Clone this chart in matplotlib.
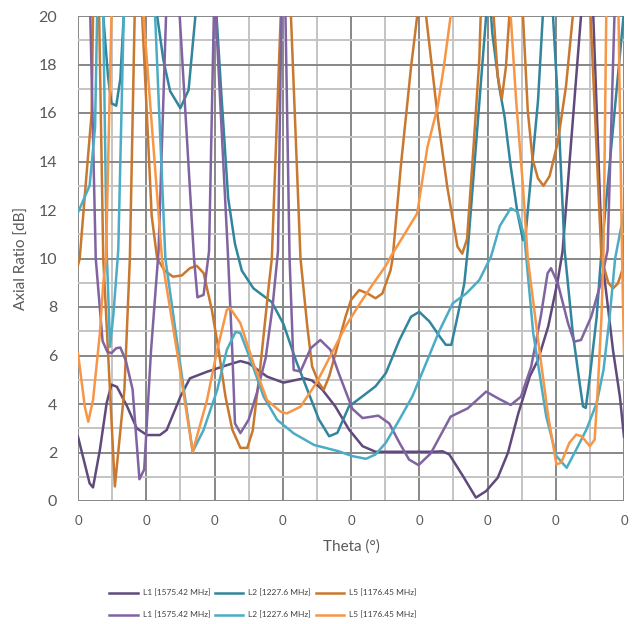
import matplotlib
matplotlib.use("Agg")
import matplotlib.pyplot as plt
from matplotlib.ticker import MultipleLocator, FixedFormatter, FixedLocator

plt.rcParams['font.family'] = ['Lato', 'DejaVu Sans']

# theta position in grid divisions (one labelled division = 8 per sweep), axial ratio in dB
l1a_theta = [0, 0.17, 0.22, 0.32, 0.42, 0.49, 0.57, 0.72, 0.86, 1.01, 1.2, 1.3, 1.5, 1.64, 1.89,
             2.18, 2.38, 2.5, 2.77, 3.01, 3.31, 3.43, 3.58, 3.77, 3.97, 4.17, 4.36, 5.2, 5.34, 5.44,
             5.64, 5.83, 5.98, 6.15, 6.3, 6.45, 6.62, 6.74, 6.89, 7.03, 7.1, 7.37, 7.45, 7.55, 7.68,
             7.84, 7.94, 8.0]
l1a_ar = [2.65, 0.73, 0.56, 2.1, 4.04, 4.8, 4.71, 3.9, 3.0, 2.72, 2.72, 2.93, 4.3, 5.06, 5.33,
          5.6, 5.77, 5.68, 5.13, 4.88, 5.06, 4.97, 4.59, 3.9, 2.95, 2.26, 2.03, 2.03, 2.05, 1.92,
          1.03, 0.14, 0.41, 0.96, 1.99, 3.6, 5.14, 5.82, 7.2, 9.1, 10.3, 20, 24, 20, 10,
          6.2, 4.3, 2.65]

l2a_theta = [0, 0.37, 0.44, 0.49, 0.56, 0.62, 0.67, 0.9, 1.16, 1.25, 1.35, 1.5, 1.62, 1.72, 1.88,
             2.03, 2.1, 2.2, 2.3, 2.4, 2.57, 2.84, 3.01, 3.19, 3.36, 3.53, 3.68, 3.8, 3.97, 4.17,
             4.36, 4.51, 4.71, 4.88, 5.0, 5.15, 5.3, 5.39, 5.47, 5.56, 5.66, 5.71, 5.98, 6.03, 6.07,
             6.17, 6.25, 6.34, 6.44, 6.52, 6.56, 6.74, 6.81, 6.88, 6.96, 7.03, 7.13, 7.25, 7.35, 7.4,
             7.44, 7.5, 7.6, 7.67, 8.0]
l2a_ar = [26, 20, 17.5, 16.4, 16.3, 17.4, 20, 27, 20, 18.2, 16.9, 16.2, 16.95, 20, 24,
          20, 16.8, 12.5, 10.6, 9.5, 8.77, 8.2, 7.3, 5.82, 4.59, 3.36, 2.67, 2.81, 3.9, 4.32,
          4.73, 5.27, 6.64, 7.6, 7.8, 7.4, 6.78, 6.44, 6.44, 7.6, 8.97, 10.34, 20, 21, 19.3,
          17.1, 15.85, 13.8, 11.87, 10.76, 11.04, 16.5, 20, 23, 20, 16.5, 10.34, 6.92, 4.86, 3.9,
          3.84, 5.14, 7.6, 10.3, 20.2]

l5a_theta = [0, 0.025, 0.12, 0.2, 0.22, 0.27, 0.31, 0.37, 0.54, 0.68, 0.76, 0.83, 0.885, 0.94, 1.08,
             1.16, 1.27, 1.39, 1.52, 1.64, 1.74, 1.84, 1.96, 2.06, 2.16, 2.26, 2.38, 2.48, 2.56, 2.67,
             2.8, 2.84, 2.97, 3.05, 3.12, 3.26, 3.36, 3.43, 3.53, 3.6, 3.68, 3.8, 3.92, 4.0, 4.12,
             4.24, 4.36, 4.46, 4.58, 4.61, 4.73, 4.88, 4.97, 5.03, 5.1, 5.27, 5.41, 5.56, 5.63, 5.7,
             5.8, 5.88, 5.9, 6.0, 6.09, 6.15, 6.21, 6.27, 6.32, 6.42, 6.52, 6.59, 6.66, 6.74, 6.82,
             6.91, 7.03, 7.15, 7.25, 7.38, 7.51, 7.67, 7.77, 7.84, 7.91, 8.0]
l5a_ar = [9.73, 10, 13.3, 16, 20, 23, 20, 10, 0.6, 4.59, 10, 20, 24, 20, 11.75,
          10, 9.5, 9.25, 9.3, 9.6, 9.7, 9.4, 7.9, 6.23, 4.32, 2.95, 2.19, 2.19, 2.9, 5.5,
          9.0, 10, 20, 26, 20, 10, 7.19, 5.55, 4.86, 4.59, 5.14, 6.37, 7.6, 8.29, 8.7,
          8.56, 8.36, 8.56, 9.52, 10, 13.8, 17.9, 20, 21, 20, 15.85, 12.96, 10.49, 10.2, 10.8,
          14.8, 18.2, 20, 22, 20, 17.5, 16.6, 17.9, 20, 23, 20, 16.1, 14.1, 13.3, 13.0,
          13.4, 14.8, 17.1, 20, 25, 20, 10, 9.0, 8.77, 8.97, 9.73]

l1b_theta = [0, 0.18, 0.26, 0.31, 0.36, 0.43, 0.49, 0.56, 0.62, 0.7, 0.8, 0.9, 0.97, 1.07, 1.18,
             1.29, 1.39, 1.49, 1.7, 1.75, 1.84, 1.92, 1.99, 2.005, 2.02, 2.2, 2.26, 2.3, 2.38, 2.5,
             2.62, 2.75, 2.85, 2.93, 2.98, 3.01, 3.04, 3.1, 3.16, 3.26, 3.41, 3.55, 3.7, 3.82, 4.02,
             4.17, 4.4, 4.56, 4.71, 4.85, 4.99, 5.17, 5.46, 5.71, 5.98, 6.15, 6.34, 6.49, 6.64, 6.78,
             6.88, 6.93, 7.03, 7.18, 7.27, 7.37, 7.52, 7.66, 7.76, 7.86, 7.93, 8.0]
l1b_ar = [30, 20, 10, 8.3, 6.6, 6.15, 6.1, 6.3, 6.33, 5.8, 4.6, 0.9, 1.3, 6.2, 10.3,
          20, 28, 20, 10, 8.4, 8.5, 10.3, 20, 22, 20, 10, 6.2, 3.2, 2.8, 3.35,
          4.45, 5.9, 8.0, 10.3, 20, 24, 20, 10, 5.4, 5.34, 6.3, 6.64, 6.23, 5.27, 3.8,
          3.42, 3.52, 3.2, 2.4, 1.71, 1.48, 1.97, 3.48, 3.82, 4.51, 4.24, 3.96, 4.3, 5.54, 7.6,
          9.39, 9.6, 8.98, 7.33, 6.57, 6.64, 7.6, 8.99, 10.35, 20, 28, 30]

l2b_theta = [0, 0.17, 0.25, 0.28, 0.32, 0.37, 0.42, 0.47, 0.52, 0.59, 0.67, 0.9, 1.13, 1.28, 1.48,
             1.68, 1.84, 2.04, 2.18, 2.31, 2.38, 2.53, 2.72, 2.92, 3.16, 3.46, 3.82, 4.02, 4.22, 4.36,
             4.51, 4.71, 4.9, 5.1, 5.29, 5.49, 5.69, 5.88, 6.05, 6.18, 6.34, 6.44, 6.54, 6.67, 6.86,
             7.01, 7.16, 7.3, 7.45, 7.6, 7.7, 7.79, 7.87, 8.0]
l2b_ar = [11.9, 13, 15.4, 20, 22, 20, 10.35, 6.36, 7.74, 10.35, 20, 30, 20, 10, 6.0,
          2.03, 2.93, 4.58, 6.23, 6.98, 6.92, 5.81, 4.3, 3.34, 2.79, 2.31, 2.05, 1.85, 1.74, 1.92,
          2.4, 3.36, 4.32, 5.68, 6.99, 8.15, 8.56, 9.11, 10.07, 11.34, 12.07, 11.93, 10.9, 6.92, 3.49,
          1.85, 1.37, 2.12, 2.95, 4.04, 5.41, 7.6, 10.0, 11.9]

l5b_theta = [0, 0.1, 0.15, 0.22, 0.32, 0.37, 0.41, 0.49, 0.7, 0.96, 1.23, 1.46, 1.68, 1.89, 2.04,
             2.18, 2.23, 2.38, 2.57, 2.77, 2.97, 3.06, 3.26, 3.5, 3.73, 3.92, 4.12, 4.31, 4.51, 4.58,
             4.97, 5.12, 5.27, 5.36, 5.46, 5.9, 6.34, 6.42, 6.52, 6.59, 6.76, 6.89, 7.01, 7.08, 7.2,
             7.3, 7.38, 7.5, 7.57, 7.62, 7.67, 7.7, 7.74, 7.83, 7.92, 7.97, 8.0]
l5b_ar = [6.09, 3.89, 3.27, 4.16, 6.9, 8.98, 10, 20, 28, 20, 10, 6.0, 2.03, 4.16, 6.23,
          7.88, 7.95, 7.33, 5.68, 4.16, 3.68, 3.61, 3.89, 4.9, 6.16, 7.2, 8.1, 8.9, 9.7, 10.07,
          11.86, 14.6, 16.26, 17.9, 20, 28, 20, 16.5, 12.96, 10, 6.23, 3.49, 1.51, 1.58, 2.4,
          2.74, 2.67, 2.26, 2.53, 4.86, 7.6, 10.34, 20, 24, 20, 10.3, 6.09]

labels = ['L1 [1575.42 MHz]', 'L2 [1227.6 MHz]', 'L5 [1176.45 MHz]']

fig = plt.figure(figsize=(6.33, 6.24), dpi=100)
ax = fig.add_axes([78 / 633, 1 - 501 / 624, 546 / 633, 485 / 624])

lw = 1.8
h1a, = ax.plot(l1a_theta, l1a_ar, color='#604A7B', lw=lw, label=labels[0])
h2a, = ax.plot(l2a_theta, l2a_ar, color='#31859C', lw=lw, label=labels[1])
h5a, = ax.plot(l5a_theta, l5a_ar, color='#C9782F', lw=lw, label=labels[2])
h1b, = ax.plot(l1b_theta, l1b_ar, color='#8064A2', lw=lw, label=labels[0])
h2b, = ax.plot(l2b_theta, l2b_ar, color='#4BACC6', lw=lw, label=labels[1])
h5b, = ax.plot(l5b_theta, l5b_ar, color='#F79646', lw=lw, label=labels[2])

ax.set_xlim(0, 8)
ax.set_ylim(0, 20)
ax.xaxis.set_major_locator(FixedLocator(range(9)))
ax.xaxis.set_major_formatter(FixedFormatter(['0'] * 9))
ax.xaxis.set_minor_locator(MultipleLocator(0.5))
ax.yaxis.set_major_locator(MultipleLocator(2))
ax.yaxis.set_minor_locator(MultipleLocator(1))
ax.grid(which='major', color='#878787', lw=1.4, zorder=0)
ax.grid(which='minor', color='#C4C4C4', lw=1.4, zorder=0)
ax.set_axisbelow(True)
for s in ax.spines.values():
    s.set_visible(False)
ax.tick_params(which='both', length=0)
ax.tick_params(axis='y', labelsize=11.5, labelcolor='#595959', pad=15)
ax.tick_params(axis='x', labelsize=9.5, labelcolor='#595959', pad=10)
ax.set_ylabel('Axial Ratio [dB]', fontsize=11, color='#595959', labelpad=7)
ax.set_xlabel('Theta (°)', fontsize=11, color='#595959', labelpad=9)

fig.legend([h1a, h1b, h2a, h2b, h5a, h5b],
           [labels[0], labels[0], labels[1], labels[1], labels[2], labels[2]],
           ncol=3, loc='center', bbox_to_anchor=(263 / 633, 1 - 604 / 624),
           frameon=False, fontsize=6.0, handlelength=3.4, handletextpad=0.6,
           columnspacing=0.6, labelspacing=1.75, labelcolor='#404040')

fig.savefig('out.png', dpi=100)
